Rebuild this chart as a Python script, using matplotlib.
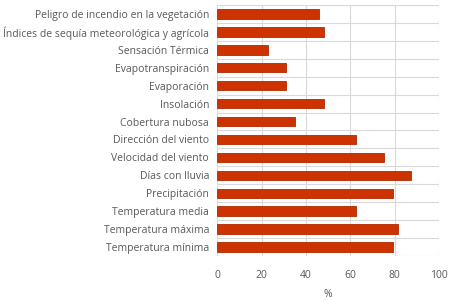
import matplotlib.pyplot as plt
import numpy as np

# categories from top to bottom as shown
categories = [
    "Peligro de incendio en la vegetación",
    "Índices de sequía meteorológica y agrícola",
    "Sensación Térmica",
    "Evapotranspiración",
    "Evaporación",
    "Insolación",
    "Cobertura nubosa",
    "Dirección del viento",
    "Velocidad del viento",
    "Días con lluvia",
    "Precipitación",
    "Temperatura media",
    "Temperatura máxima",
    "Temperatura mínima",
]
values = [46, 48, 23, 31, 31, 48, 35, 62.5, 75, 87.5, 79, 62.5, 81.5, 79]
xticks = [0, 20, 40, 60, 80, 100]

plt.rcParams['font.family'] = ['Open Sans', 'DejaVu Sans']
text_color = '#595959'
grid_color = '#D9D9D9'

fig = plt.figure(figsize=(4.5, 3.01), dpi=100)
ax = fig.add_axes([0.483, 0.150, 0.493, 0.833])

y = np.arange(len(categories))
ax.barh(y, values, height=0.52, color='#CC3300', edgecolor='#B02A00', linewidth=0.6, zorder=3)

ax.set_xlim(0, 100)
ax.set_ylim(len(categories) - 0.5, -0.5)
ax.set_xticks(xticks)
ax.set_yticks(y)
ax.set_yticklabels(categories)
ax.set_yticks(np.arange(-0.5, len(categories), 1), minor=True)
ax.tick_params(axis='both', which='both', length=0, labelsize=7.5, colors=text_color)
ax.tick_params(axis='y', pad=6)
ax.tick_params(axis='x', pad=10)

ax.grid(axis='x', color=grid_color, linewidth=0.8, zorder=0)
ax.grid(axis='y', which='minor', color=grid_color, linewidth=0.8, zorder=0)
ax.grid(axis='y', which='major', visible=False)
for s in ax.spines.values():
    s.set_visible(False)

ax.set_xlabel('%', fontsize=7.5, color=text_color, labelpad=6)

fig.savefig('out.png', dpi=100)
